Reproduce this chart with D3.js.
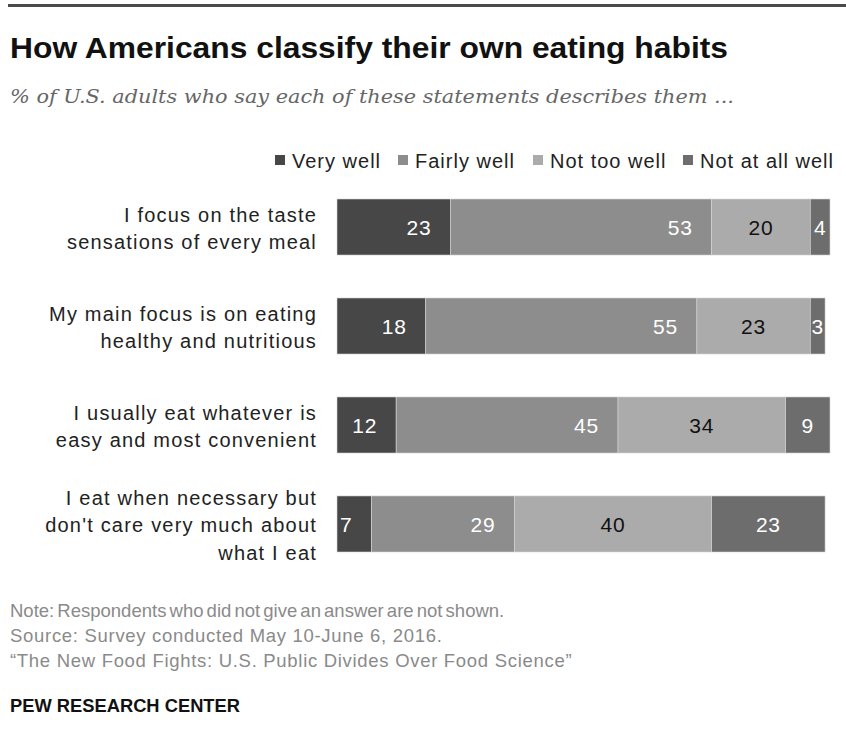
<!DOCTYPE html>
<html>
<head>
<meta charset="utf-8">
<script src="https://cdn.jsdelivr.net/npm/d3@7"></script>
<style>
  html, body { margin: 0; padding: 0; background: #fff; }
  svg { display: block; }
</style>
</head>
<body>
<svg id="chart" width="846" height="742"></svg>
<script>
// Survey responses, percent of U.S. adults
const categories = [
  ["I focus on the taste", "sensations of every meal"],
  ["My main focus is on eating", "healthy and nutritious"],
  ["I usually eat whatever is", "easy and most convenient"],
  ["I eat when necessary but", "don't care very much about", "what I eat"]
];
const seriesNames = ["Very well", "Fairly well", "Not too well", "Not at all well"];
const veryWell     = [23, 18, 12, 7];
const fairlyWell   = [53, 55, 45, 29];
const notTooWell   = [20, 23, 34, 40];
const notAtAllWell = [4, 3, 9, 23];

const colors = ["#474747", "#8d8d8d", "#ababab", "#6d6d6d"];
const labelColors = ["#fff", "#fff", "#111", "#fff"];

const rows = categories.map((c, i) => ({
  lines: c,
  values: [veryWell[i], fairlyWell[i], notTooWell[i], notAtAllWell[i]]
}));

const svg = d3.select("#chart");
const sans = "'Liberation Sans', Arial, sans-serif";

// Top rule
svg.append("rect").attr("x", 8).attr("y", 4).attr("width", 838).attr("height", 3).attr("fill", "#4a4a4a");

// Title and subtitle
svg.append("text")
  .attr("x", 10).attr("y", 58)
  .attr("font-family", "'Liberation Sans Narrow', " + sans)
  .attr("font-weight", "bold").attr("font-size", 30).attr("fill", "#111")
  .attr("textLength", 718).attr("lengthAdjust", "spacingAndGlyphs")
  .text("How Americans classify their own eating habits");

svg.append("text")
  .attr("x", 10).attr("y", 103)
  .attr("font-family", "'DejaVu Serif', 'Liberation Serif', serif")
  .attr("font-style", "italic").attr("font-size", 19).attr("fill", "#666")
  .attr("textLength", 724).attr("lengthAdjust", "spacingAndGlyphs")
  .text("% of U.S. adults who say each of these statements describes them ...");

// Scales
const x = d3.scaleLinear().domain([0, 100]).range([337, 830]);
const y = d3.scaleBand().domain(d3.range(rows.length)).range([199, 552]).paddingInner(0.434).paddingOuter(0);

// Legend
const legendX = [275, 398, 533, 683];
const legend = svg.append("g").attr("font-family", sans).attr("font-size", 20)
  .attr("letter-spacing", 1).attr("fill", "#222");
seriesNames.forEach((name, i) => {
  legend.append("rect").attr("x", legendX[i]).attr("y", 155).attr("width", 10).attr("height", 10).attr("fill", colors[i]);
  legend.append("text").attr("x", legendX[i] + 17).attr("y", 167.5).text(name);
});

// Stacked bars
const stack = rows.map(r => {
  let acc = 0;
  return r.values.map((v, k) => { const s = acc; acc += v; return { k, v, s, e: acc }; });
});

const barG = svg.append("g");
rows.forEach((r, i) => {
  const g = barG.append("g");
  const cy = y(i) + y.bandwidth() / 2;

  g.selectAll("rect").data(stack[i]).join("rect")
    .attr("x", d => x(d.s)).attr("y", y(i))
    .attr("width", d => x(d.e) - x(d.s)).attr("height", y.bandwidth())
    .attr("fill", d => colors[d.k])
    .attr("stroke", "#d6d6d6").attr("stroke-width", 0.6);

  g.selectAll("text").data(stack[i]).join("text")
    .attr("font-family", sans).attr("font-size", 21).attr("letter-spacing", 0.8)
    .attr("fill", d => labelColors[d.k])
    .attr("y", cy + 8)
    .attr("text-anchor", d => d.k < 2 ? "end" : "middle")
    .attr("x", d => d.k < 2 ? x(d.e) - 19 : (x(d.s) + x(d.e)) / 2)
    .text(d => d.v);

  // Category label
  const lh = 27.5;
  const t = svg.append("text").attr("font-family", sans).attr("font-size", 20)
    .attr("letter-spacing", 1.2).attr("fill", "#222").attr("text-anchor", "end");
  r.lines.forEach((ln, j) => {
    t.append("tspan").attr("x", 317)
      .attr("y", cy + (j - (r.lines.length - 1) / 2) * lh + 8.5)
      .text(ln);
  });
});

// Notes
const notes = [
  "Note: Respondents who did not give an answer are not shown.",
  "Source: Survey conducted May 10-June 6, 2016.",
  "\u201CThe New Food Fights: U.S. Public Divides Over Food Science\u201D"
];
svg.append("g").attr("font-family", sans).attr("font-size", 18.5).attr("fill", "#8a8a8a")
  .selectAll("text").data(notes).join("text")
  .attr("x", 10).attr("y", (d, i) => 617 + i * 25)
  .attr("letter-spacing", (d, i) => i === 0 ? 0 : 0.7)
  .attr("word-spacing", (d, i) => i === 0 ? -2 : 0)
  .text(d => d);

svg.append("text").attr("x", 10).attr("y", 712)
  .attr("font-family", "'Liberation Sans Narrow', " + sans)
  .attr("font-weight", "bold").attr("font-size", 18).attr("fill", "#111")
  .attr("textLength", 230).attr("lengthAdjust", "spacingAndGlyphs")
  .text("PEW RESEARCH CENTER");
</script>
</body>
</html>
